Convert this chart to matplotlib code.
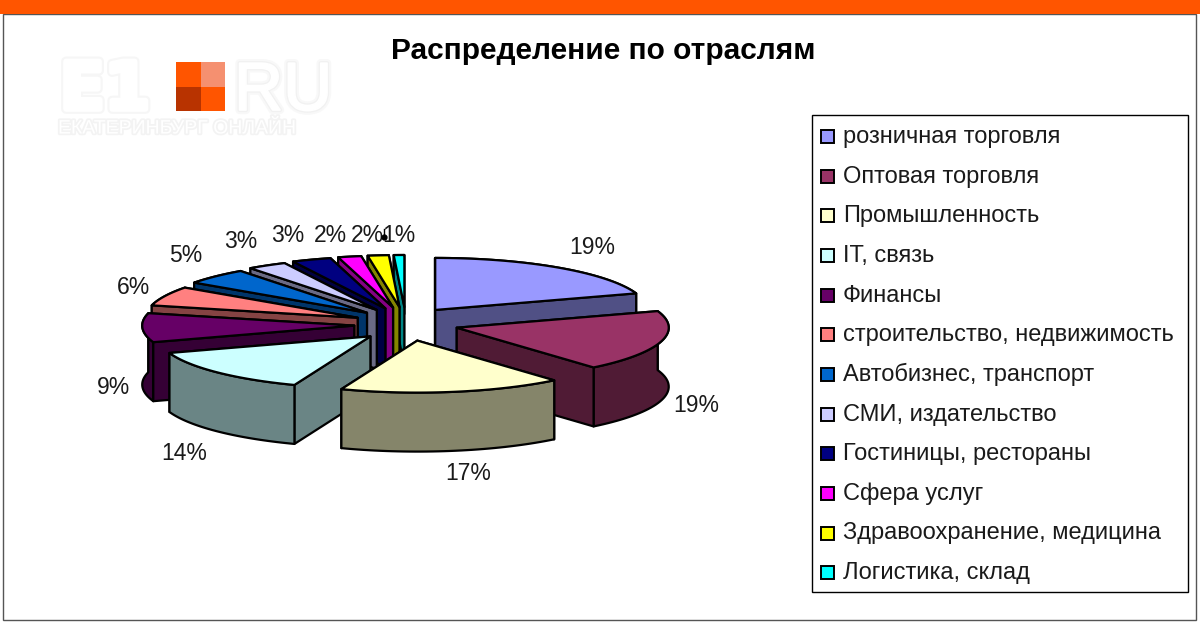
import numpy as np
import matplotlib
matplotlib.use("Agg")
import matplotlib.pyplot as plt
import matplotlib.patheffects as pe
from matplotlib.patches import Polygon, Rectangle

plt.rcParams["font.family"] = ["Liberation Sans", "DejaVu Sans"]

# ---------- данные ----------
categories = ["розничная торговля", "Оптовая торговля", "Промышленность", "IT, связь",
              "Финансы", "строительство, недвижимость", "Автобизнес, транспорт",
              "СМИ, издательство", "Гостиницы, рестораны", "Сфера услуг",
              "Здравоохранение, медицина", "Логистика, склад"]
shares = [19, 19, 17, 14, 9, 6, 5, 3, 3, 2, 2, 1]
colors = ["#9999FF", "#993366", "#FFFFCC", "#CCFFFF", "#660066", "#FF8080",
          "#0066CC", "#CCCCFF", "#000080", "#FF00FF", "#FFFF00", "#00FFFF"]

# положение подписей, пиксели
label_x = [592, 696, 468, 184, 113, 133, 186, 241, 288, 330, 367, 399]
label_y = [247, 406, 473, 454, 388, 288, 256, 242, 236, 235, 235, 235]

# геометрия пирога
CX, CY = 406, 324
RX, RY = 212, 52
EX, EY = 52, 17
DEPTH = 59
ROT = np.radians(3.0)


def darker(col, k=0.52):
    rgb = matplotlib.colors.to_rgb(col)
    return tuple(c * k for c in rgb)


def warp(t):
    # лёгкий поворот как в перспективе Excel, у 12 часов сходит на нет
    deg = np.degrees(t)
    return t + ROT * np.minimum(1, np.minimum(deg / 30, (360 - deg) / 15))


fig = plt.figure(figsize=(12, 6.3), dpi=100)
ax = fig.add_axes([0, 0, 1, 1])
ax.set_xlim(0, 1200)
ax.set_ylim(630, 0)
ax.axis("off")

# рамка и полоса
ax.add_patch(Rectangle((3, 14), 1193, 606, fc="white", ec="#555555", lw=1.0, zorder=1))
ax.add_patch(Rectangle((0, 0), 1200, 14, fc="#FF5500", ec="none", zorder=2))

# ---------- пирог ----------
cum = np.cumsum([0] + shares) / sum(shares) * 2 * np.pi
order = list(range(len(shares) - 1, 2, -1)) + [0, 1, 2]
z = 3
for i in order:
    a0, a1 = cum[i], cum[i + 1]
    mid = (a0 + a1) / 2
    ax0 = CX + EX * np.sin(mid)
    ay0 = CY - EY * np.cos(mid)
    t = warp(np.linspace(a0, a1, 40))
    arc = np.column_stack([ax0 + RX * np.sin(t), ay0 - RY * np.cos(t)])
    apex = np.array([ax0, ay0])
    down = np.array([0, DEPTH])
    side = darker(colors[i])

    walls = [
        np.vstack([apex, arc[0], arc[0] + down, apex + down]),
        np.vstack([apex, arc[-1], arc[-1] + down, apex + down]),
        np.vstack([arc, (arc + down)[::-1]]),
    ]
    walls.sort(key=lambda w: w[:, 1].mean())
    for w in walls:
        ax.add_patch(Polygon(w, closed=True, fc=side, ec="black", lw=1.6, joinstyle="round", zorder=z))
        z += 1
    ax.add_patch(Polygon(np.vstack([apex, arc]), closed=True, fc=colors[i], ec="black",
                         lw=1.6, joinstyle="round", zorder=z))
    z += 1

# подписи долей
for s, x, y in zip(shares, label_x, label_y):
    ax.text(x, y, f"{s}%", fontsize=16.5, color="#1a1a1a", ha="center", va="center", zorder=200)
ax.plot([384, 384], [229, 236], color="black", lw=1.0, zorder=201)
ax.plot([384], [237], "o", color="black", ms=3.5, zorder=201)

# заголовок
ax.text(603, 51, "Распределение по отраслям", fontsize=21.5, fontweight="bold",
        color="black", ha="center", va="center", zorder=200)

# ---------- легенда ----------
ax.add_patch(Rectangle((812, 115), 376, 477, fc="white", ec="black", lw=1.0, zorder=100))
for i, (name, col) in enumerate(zip(categories, colors)):
    y = 136 + i * 39.65
    ax.add_patch(Rectangle((821, y - 6), 13, 13, fc=col, ec="black", lw=1.4, zorder=101))
    ax.text(843, y + 1, name, fontsize=17, color="#1a1a1a", va="center", ha="left", zorder=102)

# ---------- логотип ----------
soft = [pe.Stroke(linewidth=6, foreground="#f8f8f8"), pe.Stroke(linewidth=3, foreground="#f1f1f1"),
        pe.Stroke(linewidth=1.2, foreground="white"), pe.Normal()]
ax.text(60, 109, "E1", fontsize=47, fontweight="bold", family="DejaVu Sans", color="white",
        va="baseline", ha="left", zorder=300,
        path_effects=[pe.Stroke(linewidth=7, foreground="#f6f6f6"),
                      pe.Stroke(linewidth=4, foreground="white"), pe.Normal()])
ax.text(234, 110, "RU", fontsize=49, color="white", va="baseline", ha="left",
        zorder=300, path_effects=soft)
ax.text(58, 129, "ЕКАТЕРИНБУРГ ОНЛАЙН", fontsize=14, color="white", va="center", ha="left",
        zorder=300, path_effects=[pe.Stroke(linewidth=2.5, foreground="#f3f3f3"), pe.Normal()])
square = 24.5
for (dx, dy), c in zip([(0, 0), (1, 0), (0, 1), (1, 1)], ["#FF5500", "#F59070", "#B83300", "#FF5500"]):
    ax.add_patch(Rectangle((176 + dx * square, 62 + dy * square), square, square, fc=c, ec="none", zorder=300))

fig.savefig("out.png", dpi=100)
